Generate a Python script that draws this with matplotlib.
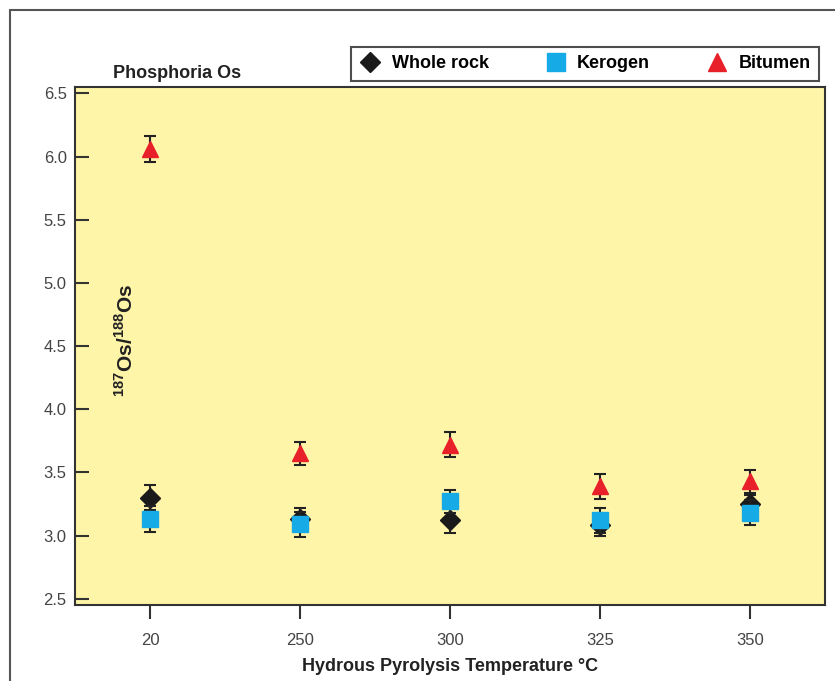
import matplotlib.pyplot as plt
from matplotlib.lines import Line2D
from matplotlib.patches import Rectangle
import numpy as np

plt.rcParams['font.family'] = ['Liberation Sans Narrow', 'Liberation Sans', 'DejaVu Sans']
plt.rcParams['mathtext.fontset'] = 'custom'
plt.rcParams['mathtext.rm'] = 'Liberation Sans:bold'
plt.rcParams['mathtext.bf'] = 'Liberation Sans:bold'

temps = ['20', '250', '300', '325', '350']

whole_rock = [3.30, 3.13, 3.12, 3.08, 3.25]
whole_rock_err = [0.10, 0.09, 0.10, 0.08, 0.07]

kerogen = [3.13, 3.09, 3.27, 3.12, 3.18]
kerogen_err = [0.10, 0.10, 0.09, 0.10, 0.10]

bitumen = [6.06, 3.65, 3.72, 3.39, 3.43]
bitumen_err = [0.10, 0.09, 0.10, 0.10, 0.09]

fig = plt.figure(figsize=(8.35, 6.81), dpi=100)
ax = fig.add_axes([0.0898, 0.1116, 0.898, 0.7606])
ax.set_facecolor('#fff5a8')

x = np.arange(len(temps))
eb = dict(ecolor='#222222', elinewidth=1.5, capsize=4, capthick=1.5, linestyle='none')
ax.errorbar(x, whole_rock, yerr=whole_rock_err, marker='D', markersize=10,
            color='#1a1a1a', **eb, zorder=3)
ax.errorbar(x, kerogen, yerr=kerogen_err, marker='s', markersize=12,
            color='#16aae6', **eb, zorder=4)
ax.errorbar(x, bitumen, yerr=bitumen_err, marker='^', markersize=12,
            color='#e8202a', **eb, zorder=5)

ax.set_xlim(-0.5, 4.5)
ax.set_ylim(2.45, 6.55)
ax.set_xticks(x)
ax.set_xticklabels(temps)
ax.set_yticks(np.arange(2.5, 6.51, 0.5))
ax.set_yticklabels([f'{v:.1f}' for v in np.arange(2.5, 6.51, 0.5)])
ax.tick_params(axis='y', direction='in', length=10, width=1.5, color='#333333',
               labelsize=12, labelcolor='#444444', pad=6)
ax.tick_params(axis='x', direction='out', length=10, width=1.5, color='#333333',
               labelsize=12, labelcolor='#444444', pad=10)
for s in ax.spines.values():
    s.set_color('#333333')
    s.set_linewidth(1.5)

ax.set_xlabel('Hydrous Pyrolysis Temperature \u00b0C', fontsize=13, fontweight='bold',
              color='#222222', labelpad=7)
ax.text(0.067, 0.51, r'$^{187}\mathrm{Os}/^{188}\mathrm{Os}$', transform=ax.transAxes,
        rotation=90, fontsize=15, ha='center', va='center', color='#222222')
fig.text(113 / 835, 1 - 73 / 681, 'Phosphoria Os', fontsize=13, fontweight='bold',
         ha='left', va='center', color='#222222')

handles = [
    Line2D([], [], marker='D', color='#1a1a1a', linestyle='none', markersize=10),
    Line2D([], [], marker='s', color='#16aae6', linestyle='none', markersize=13),
    Line2D([], [], marker='^', color='#e8202a', linestyle='none', markersize=13),
]
leg = fig.legend(handles, ['Whole rock', 'Kerogen', 'Bitumen'], ncol=3,
                 loc='center', bbox_to_anchor=(585 / 835, 1 - 64 / 681),
                 frameon=True, fancybox=False, edgecolor='#222222',
                 prop={'weight': 'bold', 'size': 13}, handletextpad=0.6,
                 columnspacing=3.1, borderpad=0.45, handlelength=1.2)
leg.get_frame().set_linewidth(1.5)

# outer frame
fig.patches.append(Rectangle((10 / 835, -0.1), 1.2, 1 - 10 / 681 + 0.1,
                             transform=fig.transFigure, fill=False,
                             edgecolor='#555555', linewidth=1.5))

fig.savefig('out.png', dpi=100)
